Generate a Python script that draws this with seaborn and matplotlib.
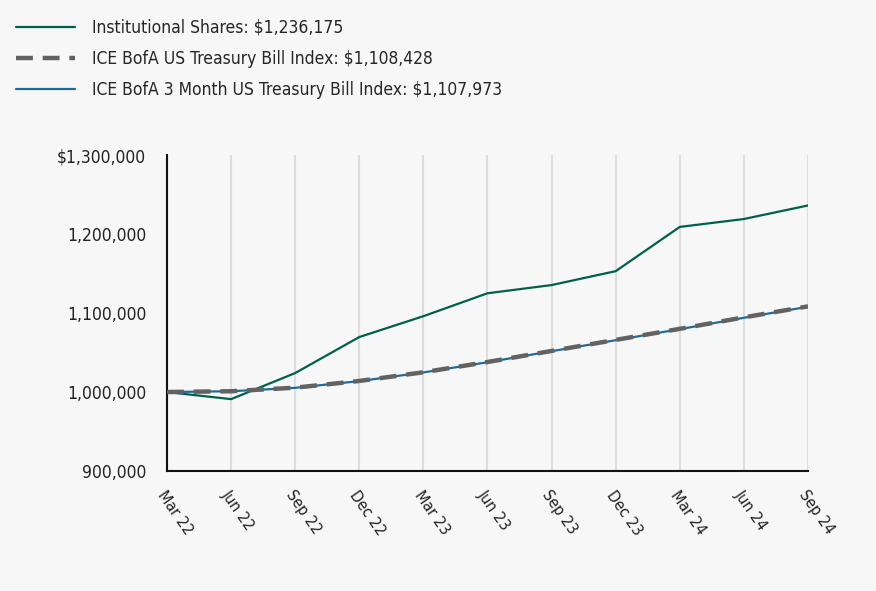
import numpy as np
import pandas as pd
import seaborn as sns
import matplotlib.pyplot as plt

# quarter labels and series values
quarters = ['Mar 22', 'Jun 22', 'Sep 22', 'Dec 22', 'Mar 23', 'Jun 23',
            'Sep 23', 'Dec 23', 'Mar 24', 'Jun 24', 'Sep 24']
institutional = [1000000, 991000, 1024000, 1069600, 1096000, 1125000,
                 1135400, 1153000, 1209000, 1219000, 1236175]
tbill = [1000000, 1001000, 1005500, 1014000, 1025000, 1038000,
         1052000, 1066000, 1080000, 1094500, 1108428]
tbill_3m = [1000000, 1001000, 1005300, 1013800, 1024800, 1037700,
            1051700, 1065600, 1079600, 1094000, 1107973]
y_ticks = [900000, 1000000, 1100000, 1200000, 1300000]
y_labels = ['900,000', '1,000,000', '1,100,000', '1,200,000', '$1,300,000']

bg = '#f7f7f7'
sns.set_style('white')
plt.rcParams['font.family'] = ['DejaVu Sans']
plt.rcParams['font.stretch'] = 'condensed'

fig = plt.figure(figsize=(8.76, 5.91), dpi=100, facecolor=bg)
ax = fig.add_axes([0.1906, 0.203, 0.7318, 0.5347], facecolor=bg)

x = np.arange(len(quarters))
sns.lineplot(x=x, y=institutional, ax=ax, color='#00604a', lw=1.6,
             label='Institutional Shares: $1,236,175', zorder=3)
sns.lineplot(x=x, y=tbill, ax=ax, color='#626262', lw=3.2,
             linestyle=(0, (3.8, 2.2)),
             label='ICE BofA US Treasury Bill Index: $1,108,428', zorder=4)
sns.lineplot(x=x, y=tbill_3m, ax=ax, color='#1f6a9a', lw=1.6,
             label='ICE BofA 3 Month US Treasury Bill Index: $1,107,973', zorder=3)

ax.set_xlim(0, len(quarters) - 1)
ax.set_ylim(900000, 1300000)
ax.set_xticks(x)
ax.set_xticklabels(quarters, rotation=-55, ha='left', va='top',
                   rotation_mode='anchor', fontsize=11.5)
ax.set_yticks(y_ticks)
ax.set_yticklabels(y_labels, fontsize=12.5)
ax.tick_params(axis='both', length=0, colors='#222222')
ax.tick_params(axis='y', pad=15)
ax.tick_params(axis='x', pad=12)

ax.grid(axis='x', color='#dddddd', lw=1.5)
ax.grid(axis='y', visible=False)
for side in ['top', 'right']:
    ax.spines[side].set_visible(False)
for side in ['left', 'bottom']:
    ax.spines[side].set_color('#111111')
    ax.spines[side].set_linewidth(1.5)

handles, labels = ax.get_legend_handles_labels()
ax.get_legend().remove()
fig.legend(handles, labels, loc='upper left', bbox_to_anchor=(0.0, 0.995),
           frameon=False, fontsize=12.5, handlelength=3.4, handletextpad=1.0,
           labelspacing=0.75)

fig.savefig('out.png', dpi=100, facecolor=bg)
